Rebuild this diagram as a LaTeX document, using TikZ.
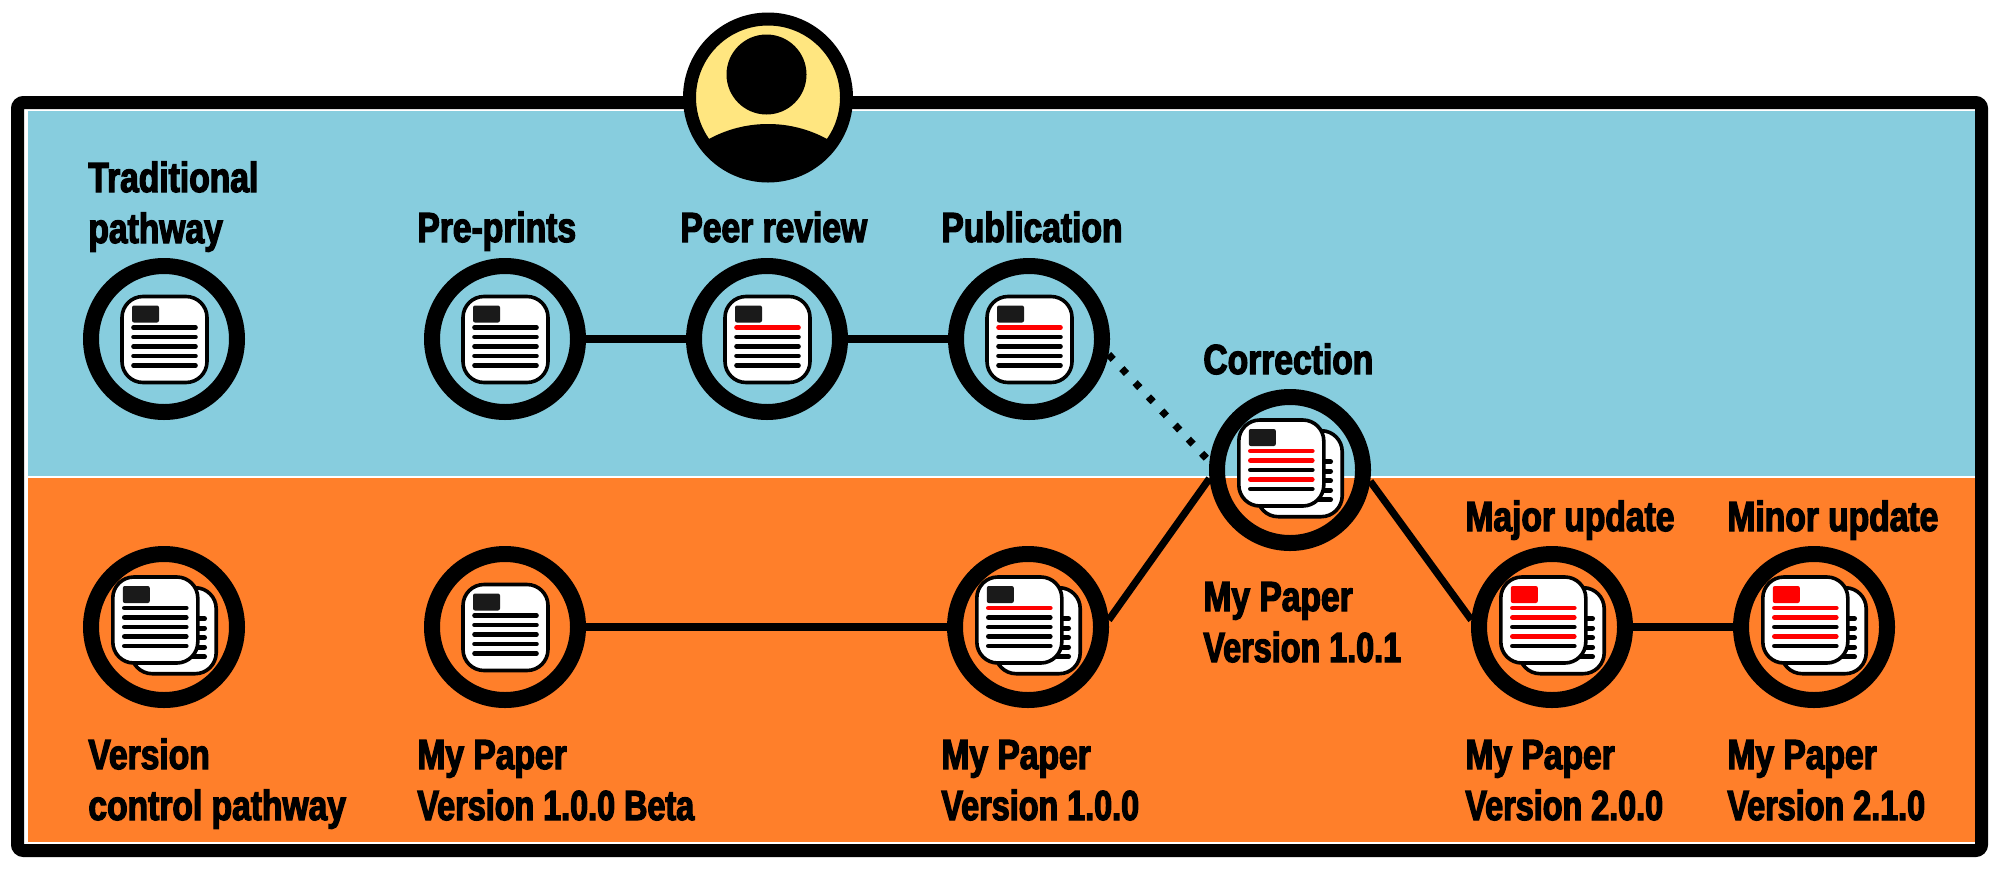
\documentclass[tikz,border=0pt]{standalone}
\usepackage{fontspec}
\setmainfont{Liberation Sans}[FakeBold=3,FakeStretch=0.8]
\newfontfamily\verfont{Liberation Sans}[FakeBold=3,FakeStretch=0.77]
\definecolor{skyp}{HTML}{87CDDE}
\definecolor{orgp}{HTML}{FF7F2A}
\definecolor{yelp}{HTML}{FFE680}
\definecolor{blockd}{HTML}{1A1A1A}
\tikzset{
 x=0.5pt,y=-0.5pt,
 ring/.style={circle,draw=black,line width=8pt,minimum size=73pt,inner sep=0pt},
 link/.style={line width=3.6pt,black},
 dotlink/.style={line width=3.6pt,black,dash pattern=on 3.4pt off 6.3pt},
 lab/.style={anchor=base west,font=\bfseries\fontsize{21}{25.5}\selectfont,inner sep=0pt,align=left,text=black},
 sheet/.style={draw=black,fill=white,line width=1.8pt,rounded corners=10.5pt},
 tline/.style={line width=2.3pt,line cap=round},
 tblock/.style={rounded corners=1pt},
}
\newcommand{\ver}[1]{{\bfseries\verfont #1}}
% #1 centre, #2 block colour, #3-#7 colours of the five lines
\newcommand{\docicon}[7]{%
 \begin{scope}[shift={#1}]
  \draw[sheet] (-42.5,-43) rectangle (42.5,43);
  \fill[#2,tblock] (-32.5,-34) rectangle (-5.5,-17);
  \draw[tline,#3] (-31,-12) -- (31,-12);
  \draw[tline,#4] (-31,-2.5) -- (31,-2.5);
  \draw[tline,#5] (-31,7) -- (31,7);
  \draw[tline,#6] (-31,16.5) -- (31,16.5);
  \draw[tline,#7] (-31,26) -- (31,26);
 \end{scope}}
\newcommand{\stackicon}[7]{%
 \begin{scope}[shift={#1}]
  \docicon{(9.7,3.7)}{blockd}{black}{black}{black}{black}{black}
  \docicon{(-8.7,-7)}{#2}{#3}{#4}{#5}{#6}{#7}
 \end{scope}}
\begin{document}
\begin{tikzpicture}
\useasboundingbox (0,0) rectangle (2000,868);
\fill[white] (0,0) rectangle (2000,868);
\node[draw=black,line width=6.5pt,rounded corners=3pt,inner sep=0pt,outer sep=0pt,minimum width=982pt,minimum height=374pt] (frame) at (999.5,476.5) {};
\fill[skyp] (28,111) rectangle (1975,476);
\fill[orgp] (28,478) rectangle (1975,842);

\node[circle,draw=black,fill=yelp,line width=6.5pt,minimum size=78.5pt,inner sep=0pt,outer sep=0pt] (person) at (768,97.5) {};
\begin{scope}
 \clip (768,97.5) circle[radius=73];
 \fill[black] (768,247.5) circle[radius=123.5];
\end{scope}
\node[circle,fill=black,minimum size=40pt,inner sep=0pt] (head) at (766.5,74.5) {};

\node[ring] (trad) at (164,339) {};
\node[ring] (pre) at (505,339) {};
\node[ring] (peer) at (767,339) {};
\node[ring] (pub) at (1029,339) {};
\node[ring] (corr) at (1290,470) {};
\node[ring] (vc) at (164,627) {};
\node[ring] (beta) at (505,627) {};
\node[ring] (v100) at (1028,627) {};
\node[ring] (major) at (1552,627) {};
\node[ring] (minor) at (1814,627) {};

\docicon{(164.5,339.5)}{blockd}{black}{black}{black}{black}{black}
\docicon{(505.5,339.5)}{blockd}{black}{black}{black}{black}{black}
\docicon{(767.5,339.5)}{blockd}{red}{black}{black}{black}{black}
\docicon{(1029.5,339.5)}{blockd}{red}{black}{black}{black}{black}
\docicon{(505.5,627.5)}{blockd}{black}{black}{black}{black}{black}
\stackicon{(164,627)}{blockd}{black}{black}{black}{black}{black}
\stackicon{(1028,627)}{blockd}{red}{black}{black}{black}{black}
\stackicon{(1290,470)}{blockd}{red}{red}{black}{red}{black}
\stackicon{(1552,627)}{red}{red}{red}{black}{red}{black}
\stackicon{(1814,627)}{red}{red}{red}{black}{red}{black}

\draw[link] (pre) -- (peer);
\draw[link] (peer) -- (pub);
\draw[link] (beta) -- (v100);
\draw[link] (v100.5) -- (corr.186);
\draw[link] (corr.-8) -- (major.175);
\draw[link] (major) -- (minor);
\draw[dotlink] (pub.-11) -- (corr.174);

\node[lab] (t1) at (88,243) {Traditional\\pathway};
\node[lab] (t2) at (417,242) {Pre-prints};
\node[lab] (t3) at (680,242) {Peer review};
\node[lab] (t4) at (941,242) {Publication};
\node[lab] (t5) at (1203,374) {Correction};
\node[lab] (t6) at (1465,531) {Major update};
\node[lab] (t7) at (1727,531) {Minor update};
\node[lab] (t8) at (88,820) {Version\\control pathway};
\node[lab] (t9) at (417,820) {My Paper\\\ver{Version 1.0.0 Beta}};
\node[lab] (t10) at (941,820) {My Paper\\\ver{Version 1.0.0}};
\node[lab] (t11) at (1203,662) {My Paper\\\ver{Version 1.0.1}};
\node[lab] (t12) at (1465,820) {My Paper\\\ver{Version 2.0.0}};
\node[lab] (t13) at (1727,820) {My Paper\\\ver{Version 2.1.0}};
\end{tikzpicture}
\end{document}
